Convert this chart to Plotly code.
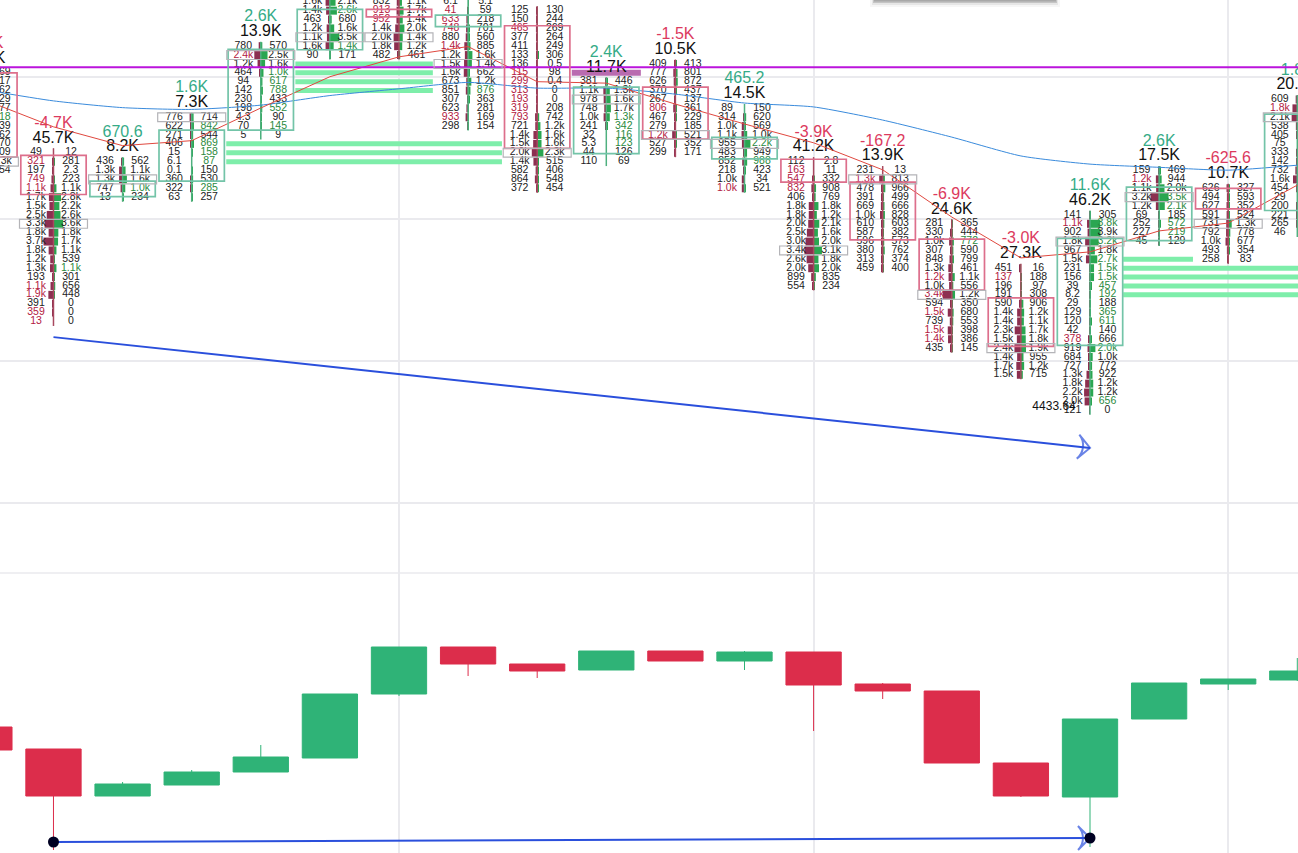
"""
Footprint chart with a candle pane below it.
"""
import plotly.graph_objects as go

# ─── Footprint data ──────────────────────────────────────────────────────────
BAR_INDEX = list(range(-1, 19))
TICK = 0.25

TOP_PRICE = [4443.25, 4441.0, 4440.75, 4442.0, 4444.0, 4445.25, 4445.25, 4445.25, 4445.0, 4443.0,
             4443.5, 4442.25, 4440.75, 4440.5, 4439.0, 4437.75, 4439.25, 4440.5, 4440.0, 4442.5]

DELTA = ["-2.1K", "-4.7K", "670.6", "1.6K", "2.6K", "3.1K", "-1.2K", "1.9K", "-3.2K", "2.4K",
         "-1.5K", "465.2", "-3.9K", "-167.2", "-6.9K", "-3.0K", "11.6K", "2.6K", "-625.6", "1.8K"]
TOTAL = ["16.4K", "45.7K", "8.2K", "7.3K", "13.9K", "21.3K", "24.4K", "14.6K", "28.7K", "11.7K",
         "10.5K", "14.5K", "41.2K", "13.9K", "24.6K", "27.3K", "46.2K", "17.5K", "10.7K", "20.7K"]

BID = [
    ["512", "604", "338", "471", "820", "690", "402", "733", "515", "640", "1.4k", "287"],
    ["49", "321", "197", "749", "1.1k", "1.7k", "1.5k", "2.5k", "3.3k", "1.8k", "3.7k", "1.8k", "1.2k", "1.3k",
     "193", "1.1k", "1.9k", "391", "359", "13"],
    ["436", "1.3k", "1.3k", "747", "13"],
    ["776", "622", "271", "406", "15", "6.1", "0.1", "360", "322", "63"],
    ["780", "2.4k", "1.2k", "464", "94", "142", "230", "198", "4.3", "70", "5"],
    ["1.6k", "1.4k", "463", "1.2k", "1.1k", "1.6k", "90"],
    ["832", "913", "952", "1.4k", "2.0k", "1.8k", "482"],
    ["6.1", "41", "633", "748", "880", "1.4k", "1.2k", "1.5k", "1.6k", "673", "851", "307", "623", "933", "298"],
    ["125", "150", "465", "377", "411", "133", "136", "115", "299", "313", "193", "319", "793", "721", "1.4k",
     "1.5k", "2.0k", "1.4k", "582", "864", "372"],
    ["381", "1.1k", "978", "748", "1.0k", "241", "32", "5.3", "44", "110"],
    ["409", "777", "626", "370", "267", "806", "467", "279", "1.2k", "527", "299"],
    ["89", "314", "1.0k", "1.1k", "955", "483", "852", "218", "1.0k", "1.0k"],
    ["112", "163", "547", "832", "406", "1.8k", "1.8k", "2.0k", "2.5k", "3.0k", "3.4k", "2.6k", "2.0k", "899", "554"],
    ["231", "1.3k", "478", "391", "669", "1.0k", "610", "587", "596", "380", "313", "459"],
    ["281", "330", "1.0k", "307", "848", "1.3k", "1.2k", "1.0k", "3.4k", "594", "1.5k", "739", "1.5k", "1.4k", "435"],
    ["451", "137", "196", "191", "590", "1.4k", "1.4k", "2.3k", "1.5k", "2.4k", "1.4k", "1.7k", "1.5k"],
    ["141", "1.1k", "902", "1.8k", "967", "1.5k", "231", "156", "39", "8.2", "29", "129", "120", "42", "378",
     "919", "684", "727", "1.3k", "1.8k", "2.2k", "2.0k", "121"],
    ["159", "1.2k", "1.1k", "3.2k", "1.2k", "69", "252", "227", "45"],
    ["626", "494", "627", "591", "731", "792", "1.0k", "493", "258"],
    ["609", "1.8k", "2.1k", "538", "405", "75", "333", "142", "732", "1.6k", "454", "29", "200", "221", "265", "46"],
]
ASK = [
    ["469", "817", "662", "529", "977", "718", "339", "862", "470", "809", "1.3k", "354"],
    ["12", "281", "2.3", "223", "1.1k", "2.8k", "2.2k", "2.6k", "3.6k", "1.8k", "1.7k", "1.1k", "539", "1.1k",
     "301", "656", "448", "0", "0", "0"],
    ["562", "1.1k", "1.6k", "1.0k", "234"],
    ["714", "842", "544", "869", "158", "87", "150", "530", "285", "257"],
    ["570", "2.5k", "1.6k", "1.0k", "617", "788", "433", "552", "90", "145", "9"],
    ["2.1k", "2.6k", "680", "1.6k", "3.5k", "1.4k", "171"],
    ["1.1k", "1.7k", "1.4k", "2.0k", "1.4k", "1.2k", "461"],
    ["5.1", "59", "218", "701", "560", "885", "1.6k", "1.4k", "662", "1.2k", "876", "363", "281", "169", "154"],
    ["130", "244", "269", "264", "249", "306", "0.5", "98", "0.4", "0", "0", "208", "742", "1.2k", "1.6k",
     "1.6k", "2.3k", "515", "406", "548", "454"],
    ["446", "1.3k", "1.6k", "1.7k", "1.3k", "342", "116", "123", "126", "69"],
    ["413", "801", "872", "437", "137", "361", "229", "185", "521", "352", "171"],
    ["150", "620", "569", "1.0k", "2.2k", "949", "988", "423", "34", "521"],
    ["2.8", "11", "332", "908", "769", "1.8k", "1.2k", "2.1k", "1.6k", "2.0k", "3.1k", "1.8k", "2.0k", "835", "234"],
    ["13", "813", "966", "499", "666", "828", "603", "382", "573", "762", "374", "400"],
    ["365", "444", "772", "590", "799", "461", "1.1k", "556", "1.2k", "350", "680", "553", "398", "386", "145"],
    ["16", "188", "97", "308", "906", "1.2k", "1.1k", "1.7k", "1.8k", "1.9k", "955", "1.2k", "715"],
    ["305", "3.8k", "3.9k", "3.2k", "1.8k", "2.7k", "1.5k", "1.5k", "457", "192", "188", "365", "611", "140", "666",
     "2.0k", "1.0k", "772", "922", "1.2k", "1.2k", "656", "0"],
    ["469", "944", "2.0k", "3.5k", "2.1k", "185", "572", "219", "129"],
    ["327", "593", "352", "524", "1.3k", "778", "677", "354", "83"],
    ["640", "1.1k", "2.4k", "612", "380", "120", "402", "96", "810", "1.3k", "502", "88", "240", "170", "310", "52"],
]

# row numbers (from the top of each bar) printed in the imbalance colours
BID_HOT = [[], [1, 3, 4, 15, 16, 18, 19], [], [], [1], [], [1, 2], [1, 2, 3, 5, 13], [2, 7, 8, 9, 10, 11, 12], [],
           [5, 8], [9], [1, 2, 3], [1], [6, 8, 10, 12, 13], [1], [1, 14], [1], [], [1]]
ASK_HOT = [[5], [13], [3], [1, 3, 4, 5, 8], [3, 4, 5, 7, 9], [1, 5], [], [10], [], [4, 5, 6, 7],
           [], [4, 6], [], [], [2], [], [1, 3, 5, 6, 7, 8, 9, 11, 12, 15, 21], [3, 4, 6, 7], [], []]

# value area box (row offsets from the top of each bar) and point of control row
VA_TOP = [0.0, 0.3, 2.2, 1.45, 0.37, 0.85, 0.85, 1.5, 1.7, 0.6, 2.6, 3.27, -0.27, 1.3, 1.72, 3.34, 2.63, 1.87, 0.0, 1.65]
VA_BOTTOM = [9.5, 4.7, 3.95, 7.2, 9.46, 5.4, 1.7, 2.8, 15.5, 8.1, 8.45, 5.7, 2.3, 7.8, 7.47, 8.8, 14.7, 7.9, 2.33, 12.5]
POC_ROW = [10, 8, 2, 0, 1, 4, 4, 7, 16, 2, 8, 4, 10, 1, 8, 9, 3, 3, 4, 2]

BLUE_LINE = [4442.77, 4442.46, 4442.27, 4442.22, 4442.34, 4442.61, 4442.80, 4442.98, 4442.82, 4442.82,
             4442.65, 4442.40, 4442.29, 4441.92, 4441.44, 4440.91, 4440.68, 4440.59, 4440.51, 4440.65]
RED_LINE = [4442.49, 4441.73, 4441.20, 4441.34, 4442.26, 4443.14, 4443.70, 4443.99, 4443.00, 4442.96,
            4442.37, 4441.81, 4441.28, 4440.52, 4439.19, 4438.04, 4438.21, 4438.80, 4439.02, 4440.09]

LEVEL_PRICE = 4443.41
PURPLE_ZONE = (7.5, 8.5, 4443.25)
# (start bar, end bar, prices)
GREEN_ZONES = [
    (2.5, 6.49, [4441.25, 4441.0, 4440.75]),
    (3.5, 5.49, [4443.5, 4443.25, 4443.0, 4442.75]),
    (15.48, 16.49, [4438.0]),
    (15.48, 18.5, [4437.75, 4437.5, 4437.25, 4437.0]),
]

# ─── Candle pane data ────────────────────────────────────────────────────────
OPEN = [21031.5, 21026, 21014.25, 21017, 21020.25, 21023.75, 21039.75, 21051.5, 21047.25, 21045.75,
        21050.5, 21048, 21050.25, 21042.25, 21040.5, 21022.5, 21014, 21033.5, 21042.25, 21043.25]
HIGH = [21031.5, 21026, 21017.75, 21020.75, 21027, 21039.75, 21051.5, 21051.5, 21047.25, 21050.5,
        21050.5, 21050.5, 21050.25, 21042.5, 21040.5, 21022.5, 21033.5, 21042.5, 21043.5, 21048.75]
LOW = [21025.75, 21000.75, 21014.25, 21017, 21020.25, 21023.75, 21039.25, 21044.25, 21043.75, 21045.75,
       21048, 21045.75, 21030.5, 21038.5, 21022.5, 21014, 21001.5, 21033.5, 21040.75, 21043]
CLOSE = [21025.75, 21014.25, 21017.25, 21020.25, 21024, 21039.75, 21051.5, 21047.25, 21045.5, 21050.5,
         21048, 21050.25, 21042, 21040.5, 21022.5, 21014.25, 21033.5, 21042.5, 21043.5, 21045.5]

UPPER_ARROW_X = [0, 15]
UPPER_ARROW_Y = [4435.81, 4432.69]
LOWER_ARROW_X = [0, 15]
LOWER_ARROW_Y = [21002.75, 21003.75]

# ─── Colours ─────────────────────────────────────────────────────────────────
TEXT_DARK = "#222222"
TEXT_RED = "#b3203f"
TEXT_GREEN = "#2b8a3e"
DELTA_RED = "#dc3a5e"
DELTA_GREEN = "#35ab87"
BID_BAR = "#8c2f50"
ASK_BAR = "#2aa651"
BOX_RED = "#dd6f8c"
BOX_GREEN = "#73c4a8"
BOX_GRAY = "#b4b4b8"
GRID = "#eaeaee"
ARROW_BLUE = "#2a4fdc"
FONT = "Liberation Sans"


def to_volume(label):
    if label.endswith("k"):
        return float(label[:-1]) * 1000
    return float(label)


fig = go.Figure()

# naked level bars
zone_x, zone_y = [], []
for start, end, prices in GREEN_ZONES:
    for p in prices:
        zone_x += [start, end, None]
        zone_y += [p, p, None]
fig.add_trace(go.Scatter(x=zone_x, y=zone_y, mode="lines", line=dict(color="#7eeeaa", width=5)))
fig.add_trace(go.Scatter(x=PURPLE_ZONE[:2], y=[PURPLE_ZONE[2]] * 2, mode="lines",
                         line=dict(color="#b96bb0", width=6)))

bid_x, ask_x, bar_y, base_x = [], [], [], []
txt_x, txt_y, txt, txt_color = [], [], [], []
head_x, head_y, head, head_color, head_size = [], [], [], [], []
shapes = []

for i, bar in enumerate(BAR_INDEX):
    top = TOP_PRICE[i]
    rows = len(BID[i])
    up = not DELTA[i].startswith("-")

    # thin stem through the whole bar
    fig.add_trace(go.Scatter(
        x=[bar, bar], y=[top + TICK * 0.5, top - TICK * (rows - 0.5)], mode="lines",
        line=dict(color="#4fb07f" if up else "#a8485f", width=1.5),
    ))

    for r in range(rows):
        price = top - r * TICK
        base_x.append(bar)
        bar_y.append(price)
        bid_x.append(-to_volume(BID[i][r]) * 3.9e-5)
        ask_x.append(to_volume(ASK[i][r]) * 3.9e-5)

        txt_x += [bar - 0.253, bar + 0.253]
        txt_y += [price, price]
        txt += [BID[i][r], ASK[i][r]]
        txt_color += [TEXT_RED if r in BID_HOT[i] else TEXT_DARK,
                      TEXT_GREEN if r in ASK_HOT[i] else TEXT_DARK]

    head_x += [bar, bar]
    head_y += [top + 3.25 * TICK, top + 1.6 * TICK]
    head += [DELTA[i], TOTAL[i]]
    head_color += [DELTA_GREEN if up else DELTA_RED, "#111111"]

    shapes.append(dict(
        type="rect", xref="x", yref="y", x0=bar - 0.473, x1=bar + 0.473,
        y0=top - VA_TOP[i] * TICK, y1=top - VA_BOTTOM[i] * TICK,
        line=dict(color=BOX_GREEN if up else BOX_RED, width=1.7),
    ))
    poc = top - POC_ROW[i] * TICK
    shapes.append(dict(
        type="rect", xref="x", yref="y", x0=bar - 0.492, x1=bar + 0.492,
        y0=poc + TICK * 0.5, y1=poc - TICK * 0.5,
        line=dict(color=BOX_GRAY, width=1.2),
    ))

fig.add_trace(go.Bar(x=bid_x, y=bar_y, base=base_x, orientation="h", width=TICK * 0.9,
                     marker=dict(color=BID_BAR, line_width=0)))
fig.add_trace(go.Bar(x=ask_x, y=bar_y, base=base_x, orientation="h", width=TICK * 0.9,
                     marker=dict(color=ASK_BAR, line_width=0)))

fig.add_trace(go.Scatter(x=txt_x, y=txt_y, text=txt, mode="text",
                         textfont=dict(family=FONT, size=10.5, color=txt_color)))
fig.add_trace(go.Scatter(x=head_x, y=head_y, text=head, mode="text",
                         textfont=dict(family=FONT, size=16, color=head_color)))

# moving lines and the level
fig.add_trace(go.Scatter(x=BAR_INDEX, y=BLUE_LINE, mode="lines",
                         line=dict(color="#3a8bdc", width=1, shape="spline", smoothing=0.6)))
fig.add_trace(go.Scatter(x=BAR_INDEX, y=RED_LINE, mode="lines", line=dict(color="#e0483f", width=1)))
fig.add_trace(go.Scatter(x=[BAR_INDEX[0], BAR_INDEX[-1] + 1], y=[LEVEL_PRICE] * 2, mode="lines",
                         line=dict(color="#bb14dc", width=2)))

# divergence arrows
fig.add_trace(go.Scatter(
    x=UPPER_ARROW_X, y=UPPER_ARROW_Y, mode="lines+markers",
    line=dict(color=ARROW_BLUE, width=2),
    marker=dict(symbol="arrow-wide-open", size=[0, 17], angleref="previous",
                color=ARROW_BLUE, line=dict(color=ARROW_BLUE, width=2)),
))
fig.add_trace(go.Scatter(x=[14.48], y=[4433.84], text=["4433.64"], mode="text",
                         textfont=dict(family=FONT, size=12, color="#111111")))

fig.add_trace(go.Candlestick(
    x=BAR_INDEX, open=OPEN, high=HIGH, low=LOW, close=CLOSE, yaxis="y2",
    increasing=dict(line=dict(color="#2fb377", width=1), fillcolor="#2fb377"),
    decreasing=dict(line=dict(color="#dc2d4b", width=1), fillcolor="#dc2d4b"),
    whiskerwidth=0,
))
fig.add_trace(go.Scatter(
    x=LOWER_ARROW_X, y=LOWER_ARROW_Y, yaxis="y2", mode="lines+markers",
    line=dict(color=ARROW_BLUE, width=2),
    marker=dict(symbol="arrow-wide-open", size=[0, 17], angleref="previous",
                color=ARROW_BLUE, line=dict(color=ARROW_BLUE, width=2)),
))
fig.add_trace(go.Scatter(x=LOWER_ARROW_X, y=LOWER_ARROW_Y, yaxis="y2", mode="markers",
                         marker=dict(color="#000022", size=11)))

# pane separator
shapes.append(dict(type="line", xref="paper", yref="paper", x0=0, x1=1, y0=280 / 853, y1=280 / 853,
                   line=dict(color=GRID, width=1.5)))

# soft shadow of the floating panel at the top edge
for depth, inset, shade in [(7, 0, "#f6f6f6"), (5, 2, "#e6e6e6"), (3, 3, "#c4c4c4"), (1.5, 4, "#a8a8a8")]:
    shapes.append(dict(type="rect", xref="paper", yref="paper", line_width=0, fillcolor=shade,
                       x0=(870 + inset) / 1298, x1=(1060 - inset) / 1298, y0=1 - depth / 853, y1=1))

fig.update_traces(hoverinfo="skip", showlegend=False)
fig.update_layout(
    width=1298, height=853,
    margin=dict(l=0, r=0, t=0, b=0),
    paper_bgcolor="white", plot_bgcolor="white",
    barmode="overlay", boxgap=0.2, boxgroupgap=0,
    shapes=shapes,
    xaxis=dict(range=[-0.774, 18.01], tick0=-1, dtick=6, showgrid=True, gridcolor=GRID, gridwidth=1.5,
               zeroline=False, showticklabels=False, ticks="", rangeslider=dict(visible=False)),
    yaxis=dict(domain=[280 / 853, 1], range=[4429.17, 4445.30], tick0=4439.135, dtick=4, showgrid=True,
               gridcolor=GRID, gridwidth=1.5, zeroline=False, showticklabels=False, ticks=""),
    yaxis2=dict(domain=[0, 280 / 853], range=[21000, 21070], anchor="x", showgrid=False, zeroline=False,
                showticklabels=False, ticks=""),
)

fig.write_html("out.html", config=dict(displayModeBar=False), post_script="document.body.style.margin='0';")
